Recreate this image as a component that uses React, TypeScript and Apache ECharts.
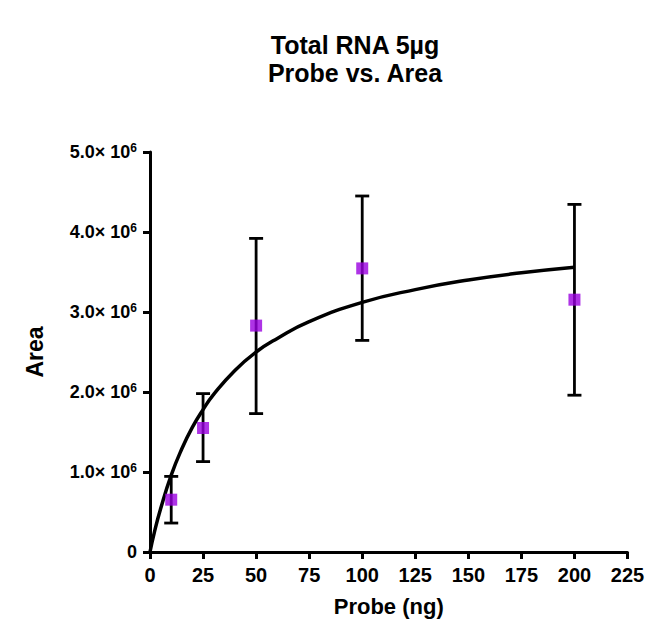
import React, { useEffect, useRef } from "react";
import * as echarts from "echarts";

const titleLines = ["Total RNA 5µg", "Probe vs. Area"];
const xAxisName = "Probe (ng)";
const yAxisName = "Area";

const probe = [10, 25, 50, 100, 200];
const areaMean = [654000, 1550000, 2830000, 3545000, 3154000];
const errUpper = [945000, 1980000, 3920000, 4450000, 4345000];
const errLower = [362000, 1130000, 1730000, 2645000, 1960000];

// fitted curve
const fitX = [0, 2, 5, 10, 15, 20, 25, 30, 40, 50, 60, 75, 100, 125, 150, 175, 200];
const fitY = [0, 240000, 540000, 960000, 1290000, 1560000, 1780000, 1970000, 2270000, 2500000, 2670000, 2880000, 3120000, 3280000, 3400000, 3490000, 3560000];

const xTicks = { min: 0, max: 225, interval: 25 };
const yTicks = { min: 0, max: 5000000, interval: 1000000 };

const FONT = "'Liberation Sans', Arial, sans-serif";

export default function App() {
  const ref = useRef<HTMLDivElement>(null);
  useEffect(() => {
    document.body.style.margin = "0";
    if (!ref.current) return;
    const chart = echarts.init(ref.current, null, { renderer: "svg" });
    const errData = probe.map((x, i) => [x, errLower[i], errUpper[i]]);
    const option: any = {
      animation: false,
      backgroundColor: "#ffffff",
      title: {
        text: titleLines.join("\n"),
        left: 350,
        top: 26,
        textAlign: "center",
        textStyle: {
          fontFamily: FONT,
          fontWeight: "bold",
          fontSize: 25,
          lineHeight: 28,
          color: "#000",
        },
      },
      grid: { left: 150, right: 25.5, top: 152, bottom: 86, containLabel: false },
      xAxis: {
        type: "value",
        min: xTicks.min,
        max: xTicks.max,
        interval: xTicks.interval,
        name: xAxisName,
        nameLocation: "middle",
        nameGap: 43,
        nameTextStyle: { fontFamily: FONT, fontWeight: "bold", fontSize: 22, color: "#000", verticalAlign: "top" },
        axisLine: { show: true, onZero: false, lineStyle: { color: "#000", width: 3 } },
        axisTick: { show: true, inside: false, length: 7, lineStyle: { color: "#000", width: 3 } },
        axisLabel: { margin: 13, fontFamily: FONT, fontWeight: "bold", fontSize: 20, color: "#000" },
        splitLine: { show: false },
      },
      yAxis: {
        type: "value",
        min: yTicks.min,
        max: yTicks.max,
        interval: yTicks.interval,
        name: yAxisName,
        nameLocation: "middle",
        nameGap: 104,
        nameRotate: 90,
        nameTextStyle: { fontFamily: FONT, fontWeight: "bold", fontSize: 23, color: "#000" },
        axisLine: { show: true, onZero: false, lineStyle: { color: "#000", width: 3 } },
        axisTick: { show: true, inside: false, length: 7, lineStyle: { color: "#000", width: 3 } },
        axisLabel: {
          margin: 13,
          color: "#000",
          fontFamily: FONT,
          fontWeight: "bold",
          fontSize: 18,
          formatter: (v: number) => {
            if (v === 0) return "{b|0}";
            const m = (v / 1e6).toFixed(1);
            return "{b|" + m + "× 10}{s|6}";
          },
          rich: {
            b: { fontFamily: FONT, fontWeight: "bold", fontSize: 18, color: "#000" },
            s: { fontFamily: FONT, fontWeight: "bold", fontSize: 12, color: "#000", padding: [0, 0, 9, 0] },
          },
        },
        splitLine: { show: false },
      },
      series: [
        {
          type: "custom",
          name: "error",
          data: errData,
          z: 2,
          renderItem: (params: any, api: any) => {
            const x = api.value(0);
            const lo = api.coord([x, api.value(1)]);
            const hi = api.coord([x, api.value(2)]);
            const hw = 7;
            const style = { stroke: "#000", lineWidth: 2.8 };
            return {
              type: "group",
              children: [
                { type: "line", shape: { x1: hi[0], y1: hi[1], x2: lo[0], y2: lo[1] }, style },
                { type: "line", shape: { x1: hi[0] - hw, y1: hi[1], x2: hi[0] + hw, y2: hi[1] }, style },
                { type: "line", shape: { x1: lo[0] - hw, y1: lo[1], x2: lo[0] + hw, y2: lo[1] }, style },
              ],
            };
          },
        },
        {
          type: "line",
          name: "fit",
          data: fitX.map((x, i) => [x, fitY[i]]),
          smooth: true,
          showSymbol: false,
          symbol: "none",
          z: 3,
          lineStyle: { color: "#000", width: 3.5 },
        },
        {
          type: "scatter",
          name: "Area",
          data: probe.map((x, i) => [x, areaMean[i]]),
          symbol: "rect",
          symbolSize: 12,
          z: 4,
          itemStyle: { color: "#9a00e0" },
        },
      ],
    };
    chart.setOption(option);
    return () => chart.dispose();
  }, []);
  return <div ref={ref} style={{ width: 653, height: 638 }} />;
}
